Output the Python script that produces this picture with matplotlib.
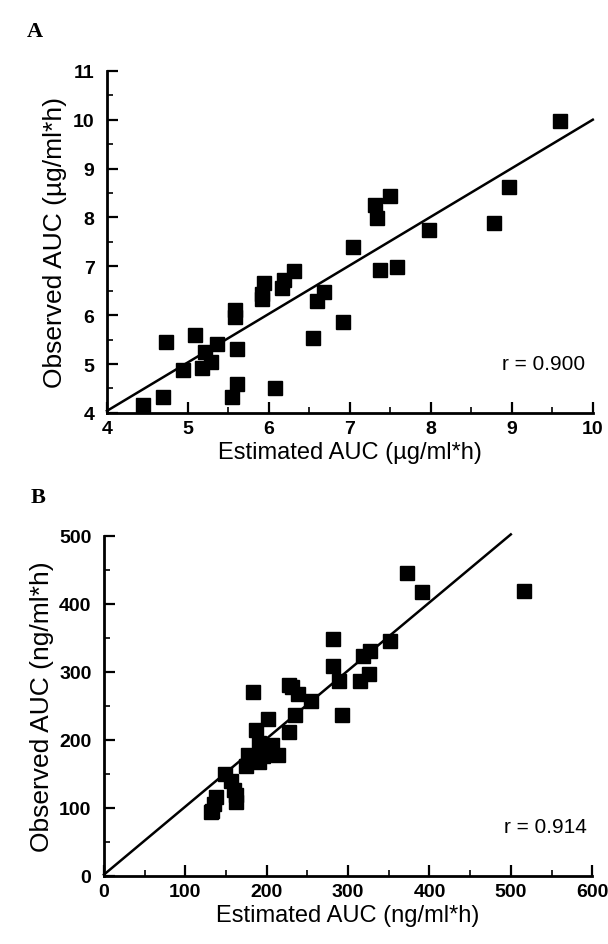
import matplotlib
matplotlib.use("Agg")
import matplotlib.pyplot as plt
import numpy as np
from matplotlib.ticker import MultipleLocator

plt.rcParams['font.family'] = ['Liberation Sans', 'DejaVu Sans']

# Panel A: AUC in ug/ml*h
est_a = [4.44, 4.69, 4.73, 4.94, 5.09, 5.17, 5.21, 5.28, 5.36, 5.54, 5.58, 5.58,
         5.60, 5.60, 5.91, 5.91, 5.94, 6.07, 6.16, 6.18, 6.31, 6.54, 6.59, 6.68,
         6.92, 7.04, 7.31, 7.33, 7.37, 7.50, 7.58, 7.98, 8.78, 8.96, 9.59]
obs_a = [4.16, 4.33, 5.46, 4.87, 5.59, 4.92, 5.25, 5.04, 5.40, 4.33, 6.10, 5.96,
         5.30, 4.60, 6.33, 6.44, 6.66, 4.50, 6.56, 6.71, 6.90, 5.53, 6.30, 6.48,
         5.86, 7.39, 8.25, 7.98, 6.93, 8.44, 6.98, 7.75, 7.89, 8.62, 9.98]
fit_a_range = [4, 10]
fit_a_slope, fit_a_icpt = 0.993, 0.07
r_a = "r = 0.900"

# Panel B: AUC in ng/ml*h
est_b = [131, 133, 135, 138, 149, 156, 160, 162, 162, 174, 177, 183, 187, 191,
         191, 195, 202, 206, 214, 227, 227, 231, 235, 238, 254, 281, 281, 289,
         293, 315, 318, 326, 327, 352, 372, 391, 516]
obs_b = [94, 96, 106, 116, 150, 140, 126, 109, 119, 162, 178, 271, 214, 167,
         196, 177, 230, 192, 178, 211, 281, 277, 236, 268, 257, 348, 309, 287,
         237, 287, 323, 297, 330, 346, 445, 417, 419]
fit_b_range = [0, 500]
fit_b_slope, fit_b_icpt = 1.0, 2.0
r_b = "r = 0.914"

fig = plt.figure(figsize=(6.08, 9.45), dpi=100)
ax_a = fig.add_axes([0.176, 0.562, 0.799, 0.362])
ax_b = fig.add_axes([0.171, 0.072, 0.803, 0.360])


def style(ax, xlim, ylim, xmaj, xmin, ymaj, ymin, xlabel, ylabel):
    ax.set_xlim(*xlim)
    ax.set_ylim(*ylim)
    ax.xaxis.set_major_locator(MultipleLocator(xmaj))
    ax.xaxis.set_minor_locator(MultipleLocator(xmin))
    ax.yaxis.set_major_locator(MultipleLocator(ymaj))
    ax.yaxis.set_minor_locator(MultipleLocator(ymin))
    for s in ("top", "right"):
        ax.spines[s].set_visible(False)
    for s in ("left", "bottom"):
        ax.spines[s].set_linewidth(2)
    ax.tick_params(which="major", direction="in", length=8, width=1.6,
                   labelsize=14)
    ax.tick_params(axis="y", which="major", pad=9)
    ax.tick_params(axis="x", which="major", pad=5)
    ax.tick_params(which="minor", direction="in", length=4, width=1.2)
    for lab in ax.get_xticklabels() + ax.get_yticklabels():
        lab.set_fontweight("bold")
    ax.set_xlabel(xlabel, fontsize=17, labelpad=3)
    ax.set_ylabel(ylabel, fontsize=19, labelpad=4)


# panel A
xa = np.array(fit_a_range)
ax_a.plot(xa, fit_a_slope * xa + fit_a_icpt, color="black", lw=1.8, clip_on=False)
ax_a.plot(est_a, obs_a, "s", color="black", ms=9.5, clip_on=False)
style(ax_a, (4, 10), (4, 11), 1, 0.5, 1, 0.5,
      "Estimated AUC (\u00b5g/ml*h)", "Observed AUC (\u00b5g/ml*h)")
ax_a.text(9.9, 5.02, r_a, fontsize=15, ha="right", va="center")

# panel B
xb = np.array(fit_b_range)
ax_b.plot(xb, fit_b_slope * xb + fit_b_icpt, color="black", lw=1.8, clip_on=False)
ax_b.plot(est_b, obs_b, "s", color="black", ms=9.5, clip_on=False)
style(ax_b, (0, 600), (0, 500), 100, 50, 100, 50,
      "Estimated AUC (ng/ml*h)", "Observed AUC (ng/ml*h)")
ax_b.text(594, 72, r_b, fontsize=15, ha="right", va="center")

fig.text(0.044, 0.966, "A", fontsize=16, fontweight="bold",
         family="Liberation Serif", ha="left", va="center")
fig.text(0.050, 0.473, "B", fontsize=16, fontweight="bold",
         family="Liberation Serif", ha="left", va="center")

fig.savefig("out.png", dpi=100)
